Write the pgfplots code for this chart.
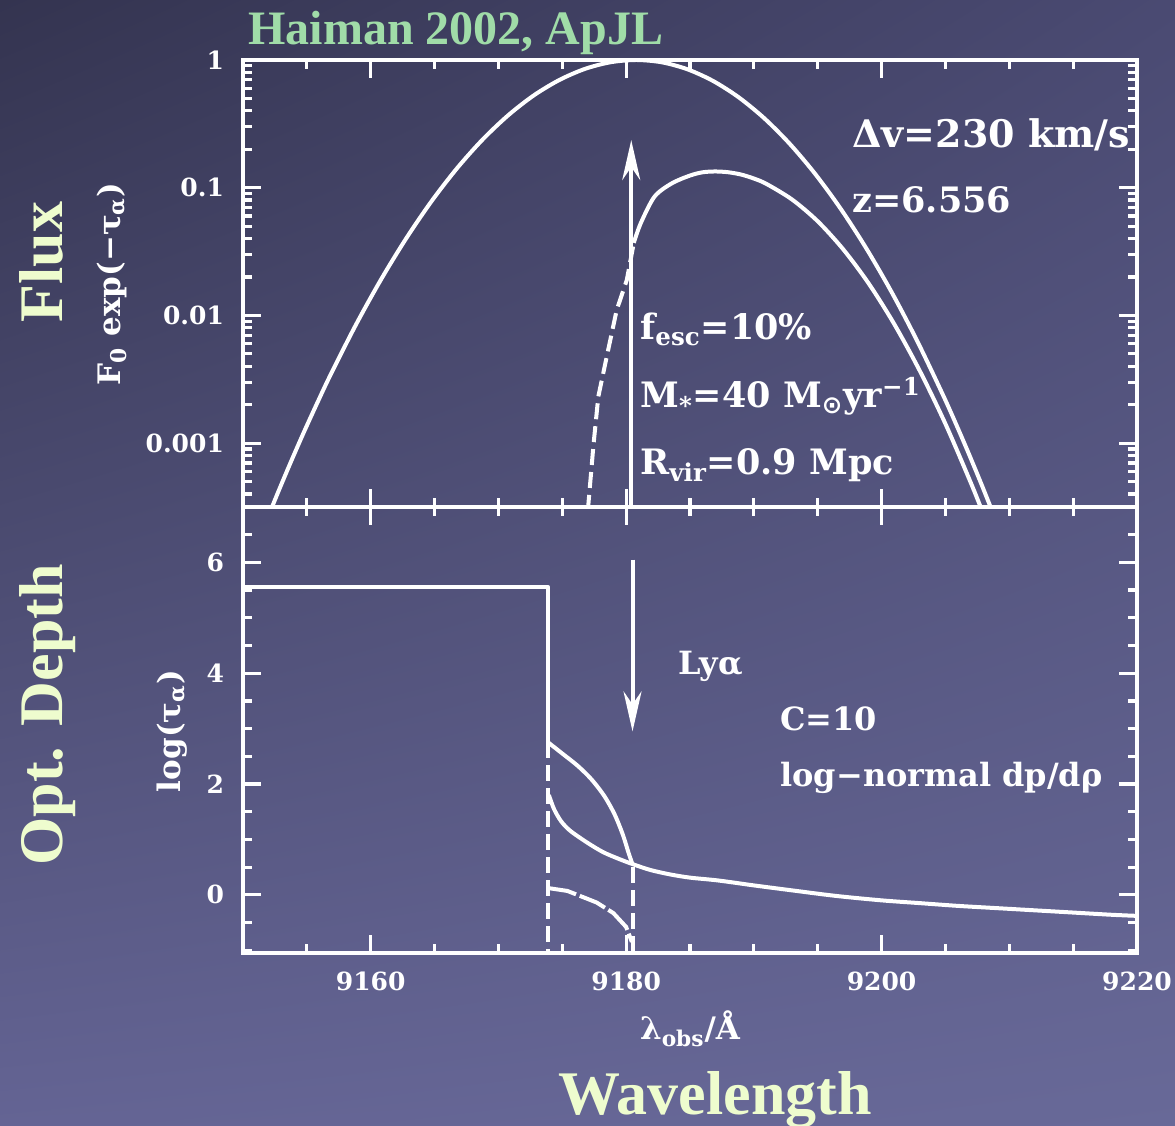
\documentclass[border=0pt]{standalone}
\usepackage{pgfplots}
\pgfplotsset{compat=1.18}
\usepackage{fontspec}
\setmainfont{DejaVu Serif}
\newfontfamily\tnr{Liberation Serif}
\newfontfamily\djsans{DejaVu Sans}
\usetikzlibrary{arrows.meta,shadings}
\definecolor{bgTL}{RGB}{52,52,80}
\definecolor{bgTR}{RGB}{74,74,114}
\definecolor{bgBL}{RGB}{100,100,148}
\definecolor{bgBR}{RGB}{104,105,152}
\definecolor{titlegreen}{RGB}{160,220,168}
\definecolor{paleyellow}{RGB}{238,252,206}
\newcommand{\tickf}{\fontsize{12.5}{12.5}\selectfont\bfseries}
\newcommand{\annf}{\fontsize{17.5}{17.5}\selectfont\bfseries}
\newcommand{\annfb}{\fontsize{19}{19}\selectfont\bfseries}
\newcommand{\annfs}{\fontsize{16}{16}\selectfont\bfseries}
\newcommand{\labf}{\fontsize{15.5}{15.5}\selectfont\bfseries}
\newcommand{\bigf}{\tnr\fontsize{31}{31}\selectfont\bfseries}
\pgfplotsset{panel/.style={
  scale only axis, width=447pt,
  xmin=9150, xmax=9220,
  xtick={9160,9180,9200,9220},
  minor xtick={9155,9165,9170,9175,9185,9190,9195,9205,9210,9215},
  tick align=inside, xtick pos=both, ytick pos=both,
  axis line style={white, line width=1.8pt},
  major tick style={white, line width=1.6pt},
  minor tick style={white, line width=1.6pt},
  major tick length=9pt, minor tick length=4.5pt,
  ticklabel style={text=white, font=\tickf},
  yticklabel style={xshift=-6pt},
  xticklabel style={yshift=-6pt},
},
curve/.style={white, line width=2pt, line join=round},
dcurve/.style={white, line width=2pt, dash pattern=on 8pt off 3.5pt},
}
\begin{document}
\begin{tikzpicture}
\shade[upper left=bgTL, upper right=bgTR, lower left=bgBL, lower right=bgBR] (0,0) rectangle (587.5pt,563pt);

% ---------- top panel ----------
\begin{axis}[panel, at={(121.5pt,309.5pt)}, anchor=south west, height=223.5pt,
  ymode=log, ymin=3.1623e-4, ymax=1,
  ytick={0.001,0.01,0.1,1}, yticklabels={0.001,0.01,0.1,1},
  minor ytick={4e-4,5e-4,6e-4,7e-4,8e-4,9e-4,2e-3,3e-3,4e-3,5e-3,6e-3,7e-3,8e-3,9e-3,0.02,0.03,0.04,0.05,0.06,0.07,0.08,0.09,0.2,0.3,0.4,0.5,0.6,0.7,0.8,0.9},
  xticklabels={}]
\addplot[curve, smooth] coordinates {
(9151.8,2.42e-4)(9152.8,4.25e-4)(9153.8,7.33e-4)(9154.8,1.239e-3)(9155.8,2.05e-3)(9156.8,3.34e-3)
(9158.8,8.30e-3)(9160.8,0.01905)(9162.8,0.0404)(9164.8,0.0793)(9166.8,0.1436)(9168.8,0.2404)
(9170.8,0.3715)(9172.8,0.5309)(9174.8,0.6998)(9176.8,0.8535)(9178.8,0.9612)(9180.8,1)
(9182.8,0.9590)(9184.8,0.8457)(9186.8,0.6859)(9188.8,0.5114)(9190.8,0.3508)(9192.8,0.2212)
(9194.8,0.1283)(9196.8,0.0684)(9198.8,0.03355)(9200.8,0.01514)(9202.8,6.28e-3)(9204.8,2.394e-3)
(9205.8,1.433e-3)(9206.8,8.40e-4)(9207.8,4.82e-4)(9208.8,2.71e-4)};
\addplot[dcurve] coordinates {
(9177.0,2.95e-4)(9177.43,9.38e-4)(9177.82,2.31e-3)(9178.48,4.75e-3)(9179.26,0.01102)(9180.05,0.01892)(9180.6,0.037)};
\addplot[curve, smooth] coordinates {
(9180.6,0.037)(9181.14,0.0526)(9182.22,0.0851)(9183.57,0.1081)(9185,0.1245)(9186,0.1321)(9187,0.1340)
(9188,0.1321)(9189,0.1268)(9190,0.1180)(9191,0.1069)(9193,0.0807)(9195,0.0546)(9197,0.0329)
(9199,0.01774)(9201,0.00853)(9203,0.00367)(9205,0.001416)(9207,4.86e-4)(9208,2.74e-4)};
\draw[white, line width=2pt, -{Stealth[length=20pt,width=9pt]}] (axis cs:9180.4,3.1623e-4) -- (axis cs:9180.4,0.236);
\end{axis}

% ---------- bottom panel ----------
\begin{axis}[panel, at={(121.5pt,86.5pt)}, anchor=south west, height=223pt,
  ymin=-1.05, ymax=7.0,
  ytick={0,2,4,6}, yticklabels={0,2,4,6},
  minor ytick={-1,-0.5,0.5,1,1.5,2.5,3,3.5,4.5,5,5.5,6.5,7},
  xticklabels={9160,9180,9200,9220}]
\addplot[curve] coordinates {(9150,5.55)(9173.9,5.55)(9173.9,2.75)};
\addplot[curve, smooth] coordinates {
(9173.9,2.75)(9175.0,2.55)(9176.2,2.33)(9177.3,2.08)(9178.3,1.78)(9179.1,1.45)(9179.75,1.08)(9180.2,0.75)(9180.5,0.55)};
\addplot[dcurve] coordinates {(9173.9,2.75)(9173.9,-1.2)};
\addplot[dcurve] coordinates {(9180.5,0.5)(9180.5,-1.2)};
\addplot[curve, smooth] coordinates {
(9173.95,1.80)(9174.35,1.55)(9174.9,1.33)(9175.6,1.16)(9176.9,0.95)(9178.2,0.77)(9179.52,0.64)
(9180.56,0.55)(9181.87,0.45)(9183.4,0.37)(9185,0.31)(9187.17,0.26)(9190,0.17)(9193,0.08)
(9196.44,-0.02)(9200,-0.10)(9203,-0.15)(9206,-0.20)(9209,-0.24)(9212,-0.28)(9215,-0.32)(9218,-0.36)(9220,-0.38)};
\addplot[white, line width=2pt, dash pattern=on 14pt off 2pt] coordinates {
(9173.95,0.12)(9175.4,0.07)(9176.5,-0.03)(9177.7,-0.14)(9179.0,-0.33)(9180.0,-0.58)(9180.45,-0.85)};
\draw[white, line width=2pt, -{Stealth[length=20pt,width=9pt]}] (axis cs:9180.5,6.05) -- (axis cs:9180.5,2.95);
\end{axis}

% ---------- annotations ----------
\begin{scope}
\clip (121.5pt,309.5pt) rectangle (568.5pt,533pt);
\node[anchor=base west, inner sep=0pt, text=white, font=\annfb] at (426pt,489pt) {Δv=230 km/s};
\end{scope}
\node[anchor=base west, inner sep=0pt, text=white, font=\annf] at (426pt,456.5pt) {z=6.556};
\node[anchor=base west, inner sep=0pt, text=white, font=\annf] at (320pt,393pt) {f\textsubscript{esc}=10\%};
\node[anchor=base west, inner sep=0pt, text=white, font=\annf] at (320pt,359pt) {M\textsubscript{*}=40 M\textsubscript{\djsans\bfseries ⊙}yr\textsuperscript{−1}};
\node[anchor=base west, inner sep=0pt, text=white, font=\annf] at (320pt,325.5pt) {R\textsubscript{vir}=0.9 Mpc};
\node[anchor=base west, inner sep=0pt, text=white, font=\annfs] at (339pt,225.5pt) {Lyα};
\node[anchor=base west, inner sep=0pt, text=white, font=\annfs] at (390pt,197.5pt) {C=10};
\node[anchor=base west, inner sep=0pt, text=white, font=\annfs] at (390pt,169.5pt) {log−normal dp/dρ};

% axis labels
\node[rotate=90, anchor=base, inner sep=0pt, text=white, font=\labf] at (60pt,421pt) {F\textsubscript{0} exp(−τ\textsubscript{α})};
\node[rotate=90, anchor=base, inner sep=0pt, text=white, font=\labf] at (90pt,197.5pt) {log(τ\textsubscript{α})};
\node[anchor=base, inner sep=0pt, text=white, font=\labf] at (345pt,43pt) {λ\textsubscript{obs}/Å};

% titles
\node[anchor=base west, inner sep=0pt, text=titlegreen, font={\tnr\fontsize{24}{24}\selectfont\bfseries}] at (124pt,540.5pt) {Haiman 2002, ApJL};
\node[rotate=90, anchor=base, inner sep=0pt, text=paleyellow, font=\bigf] at (31pt,432pt) {Flux};
\node[rotate=90, anchor=base, inner sep=0pt, text=paleyellow, font=\bigf] at (31pt,205.5pt) {Opt. Depth};
\node[anchor=base, inner sep=0pt, text=paleyellow, font=\bigf] at (357.5pt,5.5pt) {Wavelength};

\pgfresetboundingbox
\useasboundingbox (0,0) rectangle (587.5pt,563pt);
\end{tikzpicture}
\end{document}
